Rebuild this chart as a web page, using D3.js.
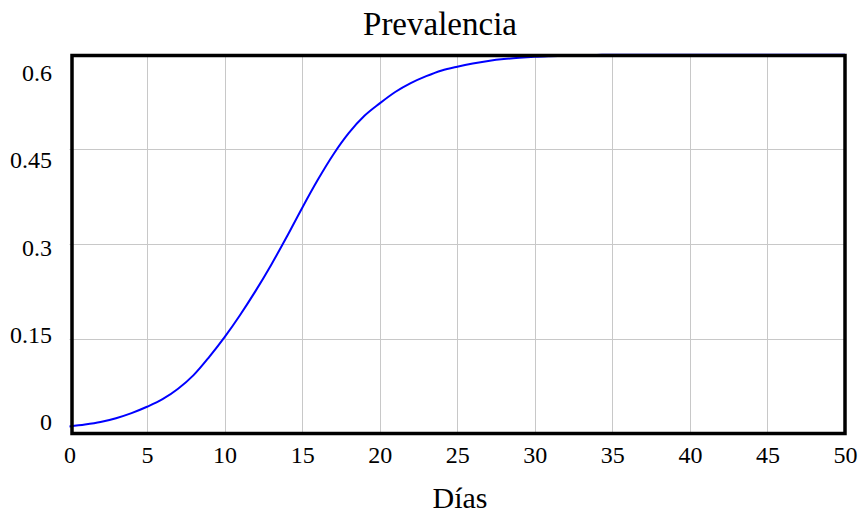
<!DOCTYPE html>
<html>
<head>
<meta charset="utf-8">
<script src="https://cdn.jsdelivr.net/npm/d3@7"></script>
<style>
  html, body { margin: 0; padding: 0; background: #fff; }
  svg { display: block; }
  text { font-family: "Liberation Serif", "Times New Roman", serif; fill: #000; }
</style>
</head>
<body>
<svg id="chart" width="862" height="513"></svg>
<script>
// Prevalence over time (days 0..50)
const days = d3.range(0, 51);
const prevalence = [
  0.012, 0.015, 0.019, 0.025, 0.033, 0.043, 0.055, 0.0715, 0.093, 0.1215,
  0.153, 0.188, 0.226, 0.267, 0.311, 0.357, 0.401, 0.441, 0.475, 0.502,
  0.522, 0.540, 0.554, 0.565, 0.574, 0.580, 0.585, 0.589, 0.592, 0.594,
  0.5955, 0.5965, 0.5973, 0.598, 0.5985, 0.599, 0.599, 0.599, 0.599, 0.599,
  0.599, 0.599, 0.599, 0.599, 0.599, 0.599, 0.599, 0.599, 0.599, 0.599,
  0.599
];
const xTicks = [0, 5, 10, 15, 20, 25, 30, 35, 40, 45, 50];
const yTicks = [0, 0.15, 0.3, 0.45, 0.6];
const yTickLabels = ["0", "0.15", "0.3", "0.45", "0.6"];
const titleText = "Prevalencia";
const xTitleText = "Días";

const svg = d3.select("#chart");

const x = d3.scaleLinear().domain([0, 50]).range([69.5, 845]);
const y = d3.scaleLinear().domain([0, 0.6]).range([434, 54]);
// value labels sit on an inset scale so the end labels stay inside the frame
const yLabel = d3.scaleLinear().domain([0, 0.6]).range([421.7, 72.5]);

// grid
const grid = svg.append("g").attr("stroke", "#c8c8c8").attr("stroke-width", 1);
grid.selectAll("line.v").data(xTicks.slice(1, -1)).join("line")
  .attr("class", "v")
  .attr("x1", d => Math.round(x(d)) + 0.5).attr("x2", d => Math.round(x(d)) + 0.5)
  .attr("y1", y(0.6)).attr("y2", y(0));
grid.selectAll("line.h").data(yTicks.slice(1, -1)).join("line")
  .attr("class", "h")
  .attr("y1", d => Math.round(y(d)) + 0.5).attr("y2", d => Math.round(y(d)) + 0.5)
  .attr("x1", x(0)).attr("x2", x(50));

// series
const line = d3.line()
  .x((d, i) => x(days[i]))
  .y(d => y(d))
  .curve(d3.curveMonotoneX);
svg.append("path")
  .datum(prevalence)
  .attr("fill", "none")
  .attr("stroke", "#0000ff")
  .attr("stroke-width", 2)
  .attr("d", line);

// frame
svg.append("rect")
  .attr("x", 72).attr("y", 55.5)
  .attr("width", 845 - 72).attr("height", 433.5 - 55.5)
  .attr("fill", "none")
  .attr("stroke", "#000")
  .attr("stroke-width", 3.5);

// x axis labels
const xAxis = d3.axisBottom(x).tickValues(xTicks).tickSize(0).tickPadding(0)
  .tickFormat(d3.format("d"));
const gx = svg.append("g").attr("transform", "translate(0,445)").call(xAxis);
gx.select(".domain").remove();
gx.selectAll("text")
  .attr("dy", null).attr("y", 18)
  .style("font-family", "'Liberation Serif', serif")
  .style("font-size", "24px")
  .attr("fill", "#000");

// y axis labels
const yAxis = d3.axisLeft(yLabel).tickValues(yTicks).tickSize(0).tickPadding(0)
  .tickFormat((d, i) => yTickLabels[i]);
const gy = svg.append("g").attr("transform", "translate(52,0)").call(yAxis);
gy.select(".domain").remove();
gy.selectAll("text")
  .attr("dy", "0.33em")
  .style("font-family", "'Liberation Serif', serif")
  .style("font-size", "24px")
  .attr("fill", "#000");

// titles
svg.append("text")
  .attr("x", 440).attr("y", 35)
  .attr("text-anchor", "middle")
  .style("font-size", "33px")
  .text(titleText);
svg.append("text")
  .attr("x", 460).attr("y", 508)
  .attr("text-anchor", "middle")
  .style("font-size", "30px")
  .text(xTitleText);
</script>
</body>
</html>
